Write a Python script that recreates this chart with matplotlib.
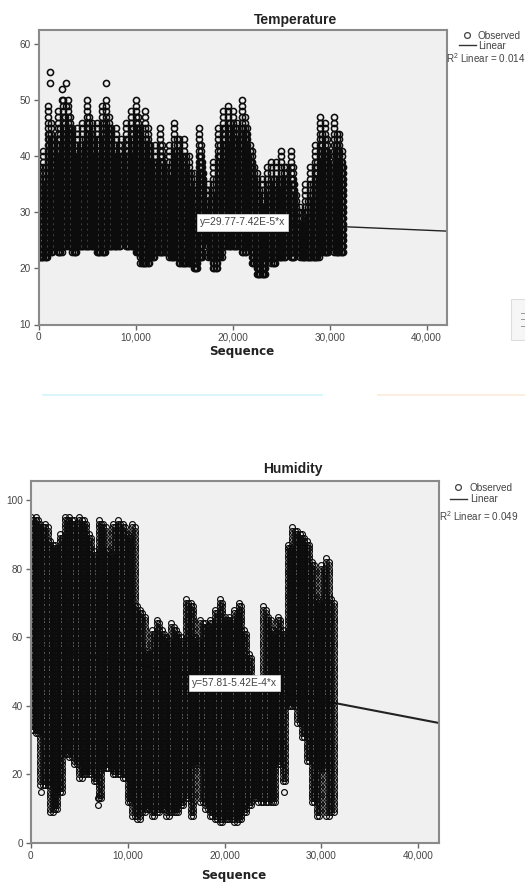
import numpy as np
import matplotlib
matplotlib.use("Agg")
import matplotlib.pyplot as plt
from matplotlib.lines import Line2D
from matplotlib.patches import Rectangle

W, H = 525, 882
SEQ_COLUMNS = list(range(0, 31500, 500))
TEMP_HIGH = [38,41,49,43,48,50,50,45,45,46,50,46,46,49,50,45,45,43,46,48,50,45,48,42,42,45,38,42,46,43,43,40,37,45,37,35,39,45,48,49,48,46,50,45,41,37,36,38,39,39,41,38,41,33,31,35,38,42,47,46,38,47,44]
TEMP_LOW = [22,22,23,24,23,24,24,23,24,24,24,24,23,23,24,24,24,25,24,24,23,21,21,22,23,23,23,22,22,21,21,21,20,22,25,22,20,22,24,24,24,24,23,24,21,19,19,22,21,22,22,23,22,23,22,22,22,22,23,23,24,23,23]
TEMP_OUT_X = [1190,1190,2400,2835,6920,2400,2835]
TEMP_OUT_Y = [53,55,52,53,53,50,49]
HUM_HIGH = [95,95,93,93,88,87,90,95,95,94,95,94,90,85,94,93,85,93,94,93,90,93,69,67,56,62,65,62,60,64,62,60,71,70,60,65,64,65,68,71,66,66,68,70,62,55,48,47,69,66,62,66,62,87,92,91,90,88,82,71,81,83,71]
HUM_LOW = [33,32,17,17,9,10,15,26,25,23,19,20,20,18,13,22,22,20,20,19,12,8,7,9,10,8,9,10,8,9,9,11,13,8,23,12,10,8,7,6,7,7,6,7,9,11,13,12,12,12,12,23,18,40,40,35,31,24,12,8,22,8,9]
HUM_OUT_X = [1070,6900,6900,26150]
HUM_OUT_Y = [15,11,13,15]
XTICKS = [0,10000,20000,30000,40000]
TEMP_YTICKS = [10,20,30,40,50,60]
HUM_YTICKS = [0,20,40,60,80,100]
TEMP_FIT = (29.77, -7.42e-5)
HUM_FIT = (57.81, -5.42e-4)
TEMP_TITLE, HUM_TITLE = "Temperature", "Humidity"
TEMP_EQ, HUM_EQ = "y=29.77-7.42E-5*x", "y=57.81-5.42E-4*x"
TEMP_R2, HUM_R2 = "R$^2$ Linear = 0.014", "R$^2$ Linear = 0.049"

plt.rcParams['font.family'] = ['Liberation Sans', 'DejaVu Sans']
plt.rcParams['mathtext.default'] = 'regular'
fig = plt.figure(figsize=(W/100, H/100), dpi=100, facecolor='white')

def fx(p): return p / W
def fy(p): return 1 - p / H
def add_ax(l, t, r, b):
    return fig.add_axes([fx(l), fy(b), (r-l)/W, (b-t)/H])

def columns(xs, lo, hi, drop=0, shift=0):
    px, py = [], []
    for x, a, b in zip(xs, lo, hi):
        for v in range(a, b - drop + 1):
            px.append(x + shift)
            py.append(v)
    return px, py

def style(ax, ylim, yticks):
    ax.set_facecolor('#f0f0f0')
    ax.set_xlim(0, 42100)
    ax.set_ylim(*ylim)
    ax.set_xticks(XTICKS)
    ax.set_xticklabels([f"{v:,}" for v in XTICKS])
    ax.set_yticks(yticks)
    ax.tick_params(length=3.6, width=1, color='#666666', labelcolor='#444444', labelsize=7.2, pad=2)
    for s in ax.spines.values():
        s.set_color('#8a8a8a')
        s.set_linewidth(1.5)

def panel(ax, lo, hi, ox, oy, fit, eq, eqxy, ms, mew, passes, lw):
    kw = dict(ls='none', marker='o', ms=ms, mfc='none', mec='#0c0c0c', mew=mew, zorder=2)
    for shift, drop in passes:
        ax.plot(*columns(SEQ_COLUMNS, lo, hi, drop=drop, shift=shift), **kw)
    ax.plot(ox, oy, **kw)
    xl = np.array([0, 42100])
    ax.plot(xl, fit[0] + fit[1]*xl, color='#222222', lw=lw, zorder=1.5)
    fig.text(fx(eqxy[0]), fy(eqxy[1]), eq, ha='center', va='center', fontsize=7.4, color='#444444',
             bbox=dict(boxstyle='square,pad=0.32', fc='white', ec='#dddddd', lw=0.5), zorder=5)

def legend(cx, ox, y1, x0, x1, y2, r2x, r2y, r2):
    fig.add_artist(Line2D([fx(cx)], [fy(y1)], marker='o', ms=4.2, mfc='none', mec='#444444', mew=0.9, ls='none', transform=fig.transFigure))
    fig.text(fx(ox), fy(y1+0.8), 'Observed', fontsize=7.2, color='#444444', va='center')
    fig.add_artist(Line2D([fx(x0), fx(x1)], [fy(y2), fy(y2)], color='#333333', lw=1, transform=fig.transFigure))
    fig.text(fx(ox), fy(y2+0.8), 'Linear', fontsize=7.2, color='#444444', va='center')
    fig.text(fx(r2x), fy(r2y), r2, fontsize=7.1, color='#444444', va='center')

# Temperature
ax1 = add_ax(38.5, 30, 447, 324.5)
style(ax1, (10, 62.5), TEMP_YTICKS)
panel(ax1, TEMP_LOW, TEMP_HIGH, TEMP_OUT_X, TEMP_OUT_Y, TEMP_FIT, TEMP_EQ, (242.5, 222.5), 4.4, 1.15,
      [(0, 0), (250, 3), (125, 5), (375, 6)], 1.0)
fig.text(fx(296), fy(20), TEMP_TITLE, fontsize=10, fontweight='bold', color='#222222', ha='center', va='center')
fig.text(fx(242), fy(351.5), 'Sequence', fontsize=8.6, fontweight='bold', family='DejaVu Sans', color='#222222', ha='center', va='center')
legend(467, 478, 35, 459, 476, 45, 446, 58, TEMP_R2)

# Humidity
ax2 = add_ax(30.7, 480.7, 438.7, 843)
style(ax2, (0, 105.6), HUM_YTICKS)
panel(ax2, HUM_LOW, HUM_HIGH, HUM_OUT_X, HUM_OUT_Y, HUM_FIT, HUM_EQ, (234.5, 683), 4.2, 0.85,
      [(0, 0), (250, 1)], 1.5)
fig.text(fx(293), fy(469.5), HUM_TITLE, fontsize=10, fontweight='bold', color='#222222', ha='center', va='center')
fig.text(fx(234), fy(876), 'Sequence', fontsize=8.6, fontweight='bold', family='DejaVu Sans', color='#222222', ha='center', va='center')
legend(458, 470, 487, 449.7, 467, 498.7, 438.7, 516, HUM_R2)

# Screenshot remnants
fig.add_artist(Rectangle((fx(42), fy(396)), 281/W, 1.6/H, fc='#d8f6fb', ec='none', transform=fig.transFigure))
fig.add_artist(Rectangle((fx(377), fy(396)), 148/W, 1.6/H, fc='#fdeee0', ec='none', transform=fig.transFigure))
fig.add_artist(Rectangle((fx(511), fy(340)), 14/W, 41/H, fc='#f6f6f6', ec='#dddddd', lw=0.8, transform=fig.transFigure))
for yy in (312.7, 319, 326):
    fig.add_artist(Line2D([fx(521), fx(525)], [fy(yy), fy(yy)], color='#999999', lw=0.7, transform=fig.transFigure))

fig.savefig('out.png', dpi=100)
